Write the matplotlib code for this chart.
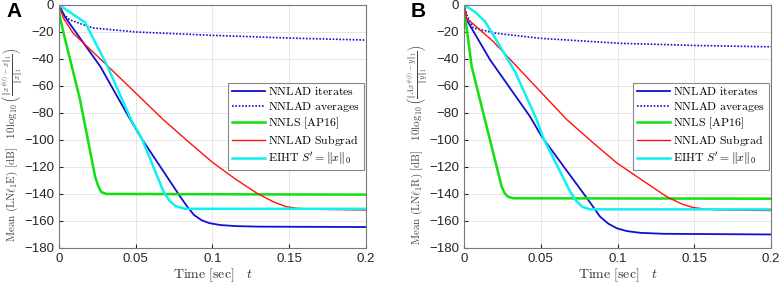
import matplotlib
matplotlib.use("Agg")
import matplotlib.pyplot as plt

plt.rcParams['font.family'] = ['Liberation Sans', 'DejaVu Sans']
plt.rcParams['mathtext.fontset'] = 'cm'

# panel A (LN l1 E)
tA_iter = [0, 0.004, 0.027, 0.045, 0.053, 0.079, 0.084, 0.088, 0.093, 0.098, 0.105, 0.115, 0.13, 0.2]
yA_iter = [0, -9, -45.7, -82, -97.5, -142, -150, -155.6, -159.5, -161.6, -163, -163.8, -164.2, -164.5]
tA_avg = [0, 0.003, 0.007, 0.022, 0.05, 0.1, 0.15, 0.2]
yA_avg = [0, -7, -11, -17, -20, -22.5, -24.5, -26]
tA_nnls = [0, 0.0005, 0.0028, 0.0137, 0.0235, 0.0255, 0.0275, 0.031, 0.2]
yA_nnls = [0, -8, -20, -70, -127, -134, -138.5, -140, -140.5]
tA_sub = [0, 0.003, 0.0093, 0.031, 0.068, 0.085, 0.1005, 0.115, 0.129, 0.14, 0.148, 0.155, 0.165, 0.2]
yA_sub = [0, -10, -21, -44.4, -85, -102, -117, -129, -139.5, -146, -149.4, -150.6, -151.3, -151.9]
tA_eiht = [0, 0.008, 0.017, 0.031, 0.047, 0.054, 0.068, 0.072, 0.076, 0.082, 0.2]
yA_eiht = [0, -6, -13, -44, -85, -99, -138, -145, -149, -151, -151]

# panel B (LN l1 R)
tB_iter = [0, 0.0017, 0.017, 0.043, 0.0506, 0.080, 0.085, 0.0886, 0.094, 0.0995, 0.106, 0.115, 0.13, 0.2]
yB_iter = [0, -11, -40.7, -82.7, -97.5, -143, -151, -156.8, -162, -165.4, -167.5, -168.8, -169.5, -170]
tB_avg = [0, 0.002, 0.006, 0.021, 0.0495, 0.1016, 0.15, 0.2]
yB_avg = [0, -8, -17, -21, -24.7, -28.4, -30, -31]
tB_nnls = [0, 0.0007, 0.005, 0.0158, 0.0245, 0.0265, 0.0285, 0.032, 0.2]
yB_nnls = [0, -8.6, -45.7, -95, -134.6, -139.5, -142, -143.2, -143.5]
tB_sub = [0, 0.0017, 0.019, 0.067, 0.085, 0.0995, 0.115, 0.132, 0.142, 0.149, 0.157, 0.167, 0.2]
yB_sub = [0, -9.9, -27, -85, -103, -117, -129, -142, -147.5, -150, -151.2, -151.8, -152.3]
tB_eiht = [0, 0.007, 0.0137, 0.021, 0.033, 0.047, 0.0517, 0.069, 0.073, 0.077, 0.082, 0.2]
yB_eiht = [0, -5, -12.3, -26, -49, -84, -98.8, -138, -145, -149.5, -151.4, -151.4]

labels = [r'$\mathrm{NNLAD\ iterates}$', r'$\mathrm{NNLAD\ averages}$',
          r'$\mathrm{NNLS\ [AP16]}$', r'$\mathrm{NNLAD\ Subgrad}$',
          r'$\mathrm{EIHT}\ S^{\prime}=\|x\|_0$']

xticks = [0, 0.05, 0.1, 0.15, 0.2]
xticklabels = ['0', '0.05', '0.1', '0.15', '0.2']
yticks = list(range(-180, 1, 20))

ylabA = (r'$\mathrm{Mean}\ (\mathrm{LN}\ell_1\mathrm{E})\ [\mathrm{dB}]\quad'
         r'10\log_{10}\left(\frac{\|x^{\#(t)}-x\|_1}{\|x\|_1}\right)$')
ylabB = (r'$\mathrm{Mean}\ (\mathrm{LN}\ell_1\mathrm{R})\ [\mathrm{dB}]\quad'
         r'10\log_{10}\left(\frac{\|Ax^{\#(t)}-y\|_1}{\|y\|_1}\right)$')

fig = plt.figure(figsize=(7.82, 2.87), dpi=100)
axA = fig.add_axes([0.0754, 0.136, 0.3926, 0.8467])
axB = fig.add_axes([0.5934, 0.136, 0.3926, 0.8467])

panels = [
    (axA, 'A', ylabA, tA_iter, yA_iter, tA_avg, yA_avg, tA_nnls, yA_nnls, tA_sub, yA_sub, tA_eiht, yA_eiht),
    (axB, 'B', ylabB, tB_iter, yB_iter, tB_avg, yB_avg, tB_nnls, yB_nnls, tB_sub, yB_sub, tB_eiht, yB_eiht),
]

for ax, letter, ylab, ti, yi, ta, ya, tn, yn, ts, ys, te, ye in panels:
    ax.plot(ti, yi, color='#1010d0', lw=1.3, label=labels[0])
    ax.plot(ta, ya, color='#1010e0', lw=1.2, ls=(0, (1, 1)), label=labels[1])
    ax.plot(tn, yn, color='#10e010', lw=1.8, label=labels[2])
    ax.plot(ts, ys, color='#ff1010', lw=1.0, label=labels[3])
    ax.plot(te, ye, color='#10f0f0', lw=1.8, label=labels[4])

    ax.set_xlim(0, 0.2)
    ax.set_ylim(-180, 0)
    ax.set_xticks(xticks)
    ax.set_xticklabels(xticklabels)
    ax.set_yticks(yticks)
    ax.grid(True, color='#e6e6e6', lw=0.7)
    ax.set_axisbelow(True)
    ax.tick_params(labelsize=9.5, colors='#262626', direction='in', length=3)
    for sp in ax.spines.values():
        sp.set_color('#777777')
        sp.set_linewidth(0.8)

    ax.set_xlabel(r'$\mathrm{Time\ [sec]}\quad t$', fontsize=10, color='#333333', labelpad=1)
    ax.set_ylabel(ylab, fontsize=8.0, color='#444444')
    ax.yaxis.set_label_coords(-0.107, 0.425)

    leg = ax.legend(loc='center right', fontsize=8.5, borderaxespad=0.2,
                    fancybox=False, framealpha=1, edgecolor='#888888',
                    handlelength=2.8, labelspacing=0.15, borderpad=0.3,
                    handletextpad=0.3)
    leg.get_frame().set_linewidth(0.8)

bx = axB.get_position().x0 - (axA.get_position().x0 - 6 / 782)
fig.text(6 / 782, 1 - 2 / 287, 'A', fontsize=15, fontweight='bold', va='top', ha='left')
fig.text(bx, 1 - 2 / 287, 'B', fontsize=15, fontweight='bold', va='top', ha='left')

fig.savefig('out.png', dpi=100)
